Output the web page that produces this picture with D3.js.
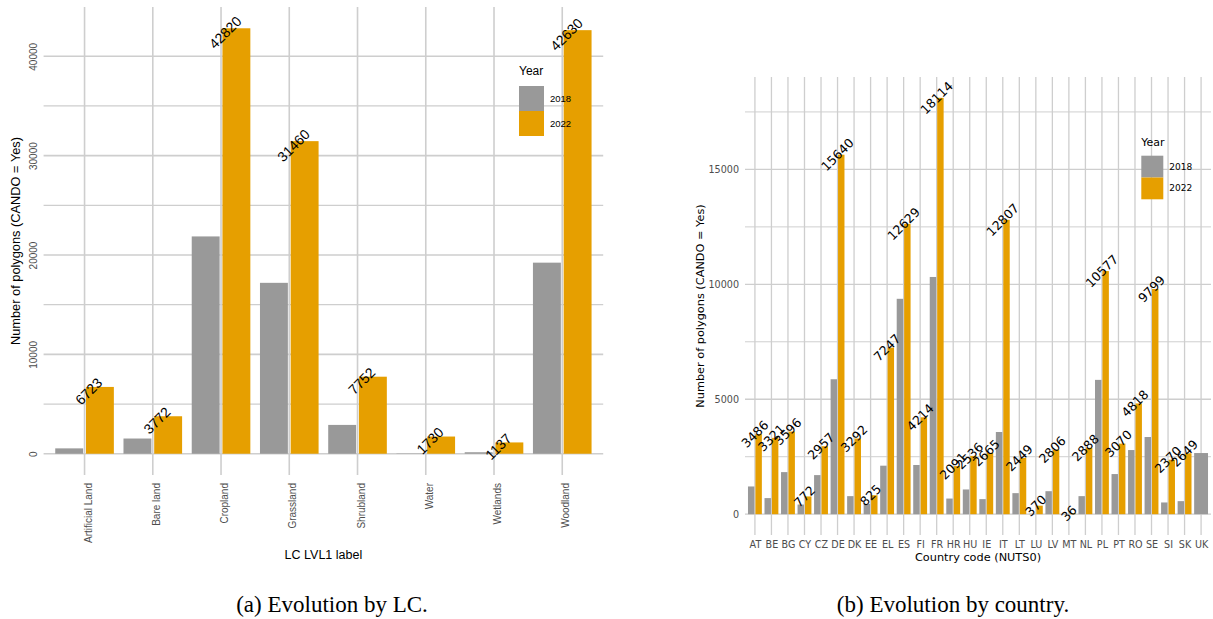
<!DOCTYPE html>
<html>
<head>
<meta charset="utf-8">
<script src="https://cdn.jsdelivr.net/npm/d3@7"></script>
<style>
body { margin: 0; background: #fff; }
</style>
</head>
<body>
<div class="svgtarget"></div>
<script>
// polygons with CANDO = Yes, 2018 vs 2022

var lcLabels = ["Artificial Land", "Bare land", "Cropland", "Grassland", "Shrubland", "Water", "Wetlands", "Woodland"];
var lc2018 = [540, 1530, 21870, 17200, 2900, 30, 150, 19230];
var lc2022 = [6723, 3772, 42820, 31460, 7752, 1730, 1137, 42630];
var lcTicks = [0, 10000, 20000, 30000, 40000];

var countryCodes = ["AT", "BE", "BG", "CY", "CZ", "DE", "DK", "EE", "EL", "ES", "FI", "FR", "HR", "HU",
                    "IE", "IT", "LT", "LU", "LV", "MT", "NL", "PL", "PT", "RO", "SE", "SI", "SK", "UK"];
var country2018 = [1206, 700, 1830, 420, 1700, 5870, 785, 450, 2110, 9370, 2140, 10320, 680, 1075,
                   655, 3575, 915, 15, 1000, 5, 785, 5843, 1745, 2790, 3357, 510, 567, 2660];
var country2022 = [3486, 3321, 3596, 772, 2957, 15640, 3292, 825, 7247, 12629, 4214, 18114, 2091, 2536,
                   2665, 12807, 2449, 370, 2806, 36, 2888, 10577, 3070, 4818, 9799, 2370, 2649, null];
var countryTicks = [0, 5000, 10000, 15000];

var years = ["2018", "2022"];
var yearColours = ["#999999", "#E69F00"];

var gridCol = "#cecece", tickCol = "#4d4d4d";

var svg = d3.select(".svgtarget")
            .append("svg")
            .attr("width", 1213)
            .attr("height", 619)
            .style("display", "block");

var drawPanel = function(p) {
    var x = d3.scalePoint().domain(p.cats).range([p.left, p.right]).padding(0.6);
    var step = x.step();
    var ymax = d3.max(p.v2018.concat(p.v2022));
    var y = d3.scaleLinear().domain([-0.05 * ymax, 1.05 * ymax]).range([p.bottom, p.top]);

    var g = svg.append("g").style("font-family", p.font);

    // grid
    var tstep = p.ticks[1] - p.ticks[0];
    var minor = p.ticks.map(function(t) { return t + tstep / 2; })
                       .filter(function(t) { return t < y.domain()[1]; });

    g.selectAll(".minor").data(minor).enter().append("line")
        .attr("x1", p.left).attr("x2", p.right)
        .attr("y1", d => y(d)).attr("y2", d => y(d))
        .attr("stroke", gridCol).attr("stroke-width", p.gridW * 0.75);

    g.selectAll(".major").data(p.ticks).enter().append("line")
        .attr("x1", p.left).attr("x2", p.right)
        .attr("y1", d => y(d)).attr("y2", d => y(d))
        .attr("stroke", gridCol).attr("stroke-width", p.gridW);

    g.selectAll(".vgrid").data(p.cats).enter().append("line")
        .attr("x1", d => x(d)).attr("x2", d => x(d))
        .attr("y1", p.top).attr("y2", p.bottom)
        .attr("stroke", gridCol).attr("stroke-width", p.gridW);

    // bars, dodged like ggplot (a lone bar takes the whole width)
    var rows = [];
    p.cats.forEach(function(c, i) {
        var vals = [p.v2018[i], p.v2022[i]];
        var present = [0, 1].filter(k => vals[k] != null);
        var inner = d3.scaleBand().domain(present).range([-0.45 * step, 0.45 * step]);
        present.forEach(function(k) {
            rows.push({cat: c, k: k, value: vals[k], x0: x(c) + inner(k), w: inner.bandwidth()});
        });
    });

    g.selectAll(".bar").data(rows).enter().append("rect")
        .attr("x", d => d.x0 + p.gap)
        .attr("width", d => d.w - 2 * p.gap)
        .attr("y", d => y(d.value))
        .attr("height", d => y(0) - y(d.value))
        .attr("fill", d => yearColours[d.k]);

    // value labels for 2022
    var labs = rows.filter(d => d.k == 1);
    g.selectAll(".lab").data(labs).enter().append("text")
        .attr("transform", d => "translate(" + x(d.cat) + "," + y(d.value) + ") rotate(-45)")
        .attr("y", p.labDy)
        .attr("text-anchor", "middle")
        .style("font-size", p.labSize + "px")
        .attr("fill", "#000")
        .text(d => d.value);

    // axes
    var ya = g.append("g").attr("transform", "translate(" + p.left + ",0)")
              .call(d3.axisLeft(y).tickValues(p.ticks).tickSize(0).tickFormat(d3.format("d")));
    ya.select(".domain").remove();
    ya.selectAll("text").style("font-size", p.tickSize + "px").attr("fill", tickCol).style("font-family", p.font);
    if (p.rotY) {
        ya.selectAll("text")
          .attr("x", null).attr("dy", null)
          .attr("transform", "translate(" + (-p.yTickPad) + ",0) rotate(-90)")
          .attr("text-anchor", "middle")
          .attr("dominant-baseline", "central");
    } else {
        ya.selectAll("text").attr("x", -p.yTickPad);
    }

    var xa = g.append("g").attr("transform", "translate(0," + p.bottom + ")")
              .call(d3.axisBottom(x).tickSize(0));
    xa.select(".domain").remove();
    xa.selectAll("text").style("font-size", p.tickSize + "px").attr("fill", tickCol).style("font-family", p.font);
    if (p.rotX) {
        xa.selectAll("text")
          .attr("y", null).attr("dy", null)
          .attr("transform", "translate(3," + p.xTickPad + ") rotate(-90)")
          .attr("text-anchor", "end")
          .attr("dominant-baseline", "central");
    } else {
        xa.selectAll("text").attr("y", p.xTickPad);
    }

    g.append("text")
        .attr("x", (p.left + p.right) / 2).attr("y", p.xTitleY)
        .attr("text-anchor", "middle")
        .style("font-size", p.titleSize + "px")
        .text(p.xTitle);

    g.append("text")
        .attr("transform", "translate(" + p.yTitleX + "," + (p.top + p.bottom) / 2 + ") rotate(-90)")
        .attr("text-anchor", "middle")
        .attr("dominant-baseline", "central")
        .style("font-size", p.yTitleSize + "px")
        .text("Number of polygons (CANDO = Yes)");

    // legend
    var lg = g.append("g").attr("transform", "translate(" + p.legX + "," + p.legY + ")");
    lg.append("text").attr("x", 0).attr("y", -p.keyH * 0.45)
      .style("font-size", p.legTitleSize + "px").text("Year");
    lg.selectAll(".key").data(years).enter().append("rect")
      .attr("x", 0).attr("y", (d, i) => i * p.keyH)
      .attr("width", p.keyW).attr("height", p.keyH)
      .attr("fill", (d, i) => yearColours[i]);
    lg.selectAll(".klab").data(years).enter().append("text")
      .attr("x", p.keyW + 6).attr("y", (d, i) => (i + 0.5) * p.keyH)
      .attr("dominant-baseline", "central")
      .style("font-size", p.legSize + "px")
      .text(d => d);

    // caption
    svg.append("text")
       .attr("x", p.capX).attr("y", 612)
       .attr("text-anchor", "middle")
       .style("font-family", "Liberation Serif, Times New Roman, serif")
       .style("font-size", "23px")
       .text(p.caption);
};

drawPanel({
    cats: lcLabels, v2018: lc2018, v2022: lc2022, ticks: lcTicks,
    left: 43.6, right: 603.2, top: 7, bottom: 475,
    font: "Liberation Sans, Arial, Helvetica, sans-serif",
    gridW: 1.6, gap: 1.4, labSize: 14, labDy: 11,
    tickSize: 10, rotY: true, yTickPad: 10.5, rotX: true, xTickPad: 8,
    titleSize: 12.5, yTitleSize: 12.8, xTitle: "LC LVL1 label", xTitleY: 559, yTitleX: 15,
    legX: 519, legY: 86, keyW: 25, keyH: 25, legTitleSize: 12, legSize: 9.5,
    capX: 332, caption: "(a) Evolution by LC."
});

drawPanel({
    cats: countryCodes, v2018: country2018, v2022: country2022, ticks: countryTicks,
    left: 745, right: 1211, top: 77, bottom: 535,
    font: "DejaVu Sans, sans-serif",
    gridW: 1.3, gap: 0.5, labSize: 12.5, labDy: 4.4,
    tickSize: 9.6, rotY: false, yTickPad: 6, rotX: false, xTickPad: 6.5,
    titleSize: 11.3, yTitleSize: 11.3, xTitle: "Country code (NUTS0)", xTitleY: 561, yTitleX: 700,
    legX: 1141.3, legY: 155.7, keyW: 22, keyH: 21.8, legTitleSize: 11, legSize: 9,
    capX: 953, caption: "(b) Evolution by country."
});
</script>
</body>
</html>
